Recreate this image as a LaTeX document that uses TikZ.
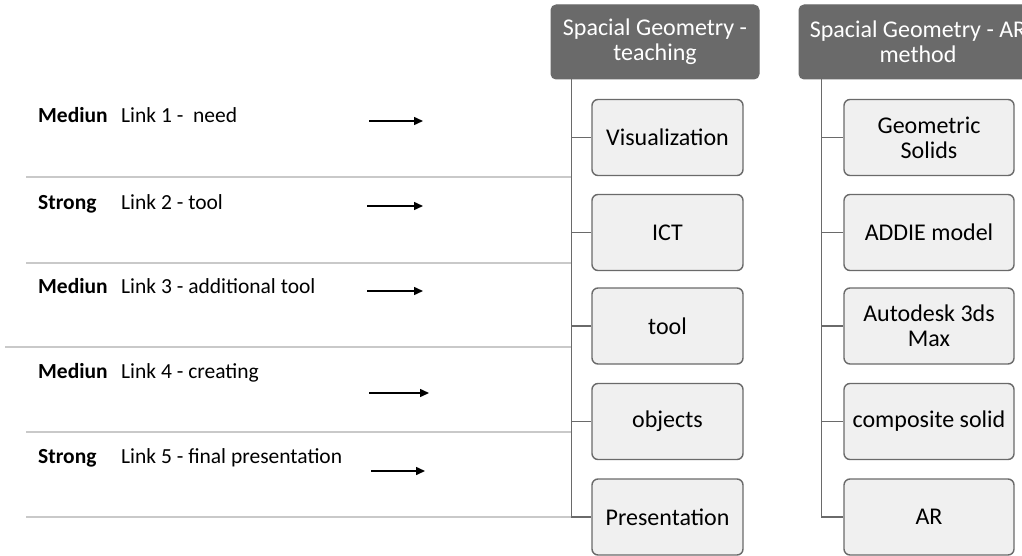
\documentclass[tikz,border=0pt]{standalone}
\usepackage{fontspec}
\setmainfont{Carlito}
\usetikzlibrary{arrows.meta}
\definecolor{hdr}{HTML}{6A6A6A}
\definecolor{boxfill}{HTML}{F0F0F0}
\definecolor{sep}{HTML}{C9C9C9}
\begin{document}
\begin{tikzpicture}[x=1pt,y=-1pt,
 header/.style={draw=hdr, fill=hdr, rounded corners=5pt, text=white, align=center, font=\fontsize{24}{25}\selectfont, minimum height=74pt, inner sep=0pt, line width=1pt},
 item/.style={draw=hdr, fill=boxfill, rounded corners=6pt, align=center, font=\fontsize{24}{25}\selectfont, minimum height=76pt, inner sep=0pt, line width=1.4pt},
 tree/.style={draw=hdr, line width=1.8pt},
 sepline/.style={draw=sep, line width=2.5pt},
 arr/.style={-{Triangle[length=9pt,width=8pt]}, line width=1.5pt},
 lbl/.style={anchor=base west, font=\fontsize{21.5}{24}\selectfont, inner sep=0pt},
 lblb/.style={anchor=base west, font=\fontsize{21.5}{24}\selectfont\bfseries, inner sep=0pt}]
\clip (0,0) rectangle (1022,556);
\fill[white] (0,0) rectangle (1022,556);

% separator lines
\draw[sepline] (26,177) -- (572,177);
\draw[sepline] (26,263) -- (572,263);
\draw[sepline] (5,347) -- (572,347);
\draw[sepline] (26,432) -- (572,432);
\draw[sepline] (26,517) -- (572,517);

% headers
\node[header, minimum width=208pt] (h1) at (655,42) {Spacial Geometry -\\teaching};
\node[header, minimum width=238pt] (h2) at (918,42) {Spacial Geometry - AR\\method};

% column 1 items
\node[item, minimum width=151pt] (v1) at (667.5,137.5) {Visualization};
\node[item, minimum width=151pt] (v2) at (667.5,232.5) {ICT};
\node[item, minimum width=151pt] (v3) at (667.5,326) {tool};
\node[item, minimum width=151pt] (v4) at (667.5,421.5) {objects};
\node[item, minimum width=151pt] (v5) at (667.5,517) {Presentation};

% column 2 items
\node[item, minimum width=170pt] (w1) at (929,137.5) {Geometric\\Solids};
\node[item, minimum width=170pt] (w2) at (929,232.5) {ADDIE model};
\node[item, minimum width=170pt] (w3) at (929,326) {Autodesk 3ds\\Max};
\node[item, minimum width=170pt] (w4) at (929,421.5) {composite solid};
\node[item, minimum width=170pt] (w5) at (929,517) {AR};

% tree connectors
\coordinate (t1) at ([xshift=21pt]h1.south west);
\coordinate (t2) at ([xshift=23pt]h2.south west);
\draw[tree] (t1) |- (v5.west);
\foreach \n in {v1,v2,v3,v4} \draw[tree] (t1 |- \n.west) -- (\n.west);
\draw[tree] (t2) |- (w5.west);
\foreach \n in {w1,w2,w3,w4} \draw[tree] (t2 |- \n.west) -- (\n.west);

% left labels
\node[lblb] (m1) at (38,123) {Mediun};
\node[lbl]  (l1) at (121,123) {Link 1 -~ need};
\node[lblb] (m2) at (38,209) {Strong};
\node[lbl]  (l2) at (121,209) {Link 2 - tool};
\node[lblb] (m3) at (38,293) {Mediun};
\node[lbl]  (l3) at (121,293) {Link 3 - additional tool};
\node[lblb] (m4) at (38,378) {Mediun};
\node[lbl]  (l4) at (121,378) {Link 4 - creating};
\node[lblb] (m5) at (38,463) {Strong};
\node[lbl]  (l5) at (121,463) {Link 5 - final presentation};

% arrows
\coordinate (a1s) at (369,121); \coordinate (a1e) at (423,121);
\coordinate (a2s) at (367,206); \coordinate (a2e) at (423,206);
\coordinate (a3s) at (367,291); \coordinate (a3e) at (423,291);
\coordinate (a4s) at (369,393); \coordinate (a4e) at (429,393);
\coordinate (a5s) at (371,471); \coordinate (a5e) at (425,471);
\draw[arr] (a1s) -- (a1e);
\draw[arr] (a2s) -- (a2e);
\draw[arr] (a3s) -- (a3e);
\draw[arr] (a4s) -- (a4e);
\draw[arr] (a5s) -- (a5e);
\end{tikzpicture}
\end{document}
